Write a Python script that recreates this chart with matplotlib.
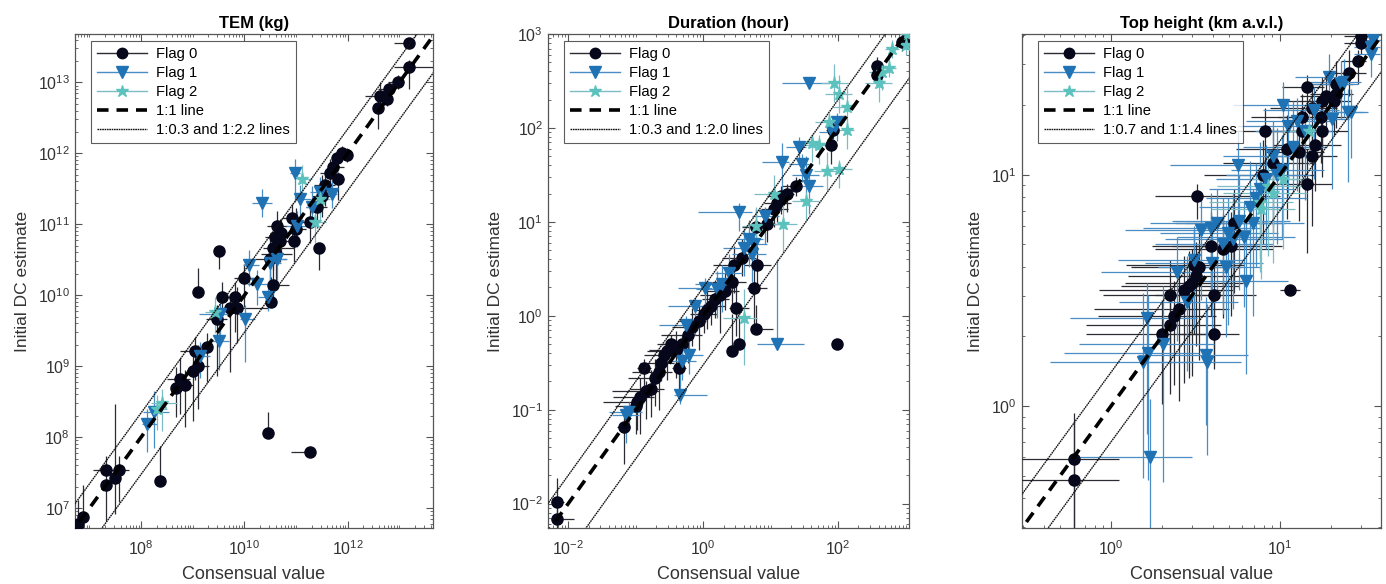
import numpy as np
import matplotlib
matplotlib.use("Agg")
import matplotlib.pyplot as plt
from matplotlib.lines import Line2D
from matplotlib.ticker import FixedLocator, LogLocator, NullFormatter, LogFormatterMathtext

plt.rcParams['font.family'] = ['Liberation Sans', 'DejaVu Sans']
plt.rcParams['mathtext.fontset'] = 'custom'
plt.rcParams['mathtext.rm'] = 'Liberation Sans'
plt.rcParams['mathtext.default'] = 'regular'
plt.rcParams['axes.unicode_minus'] = False

# rows: log10(consensual), log10(initial DC), x err low/high, y err low/high (decades)
tem_flag0 = [
    [6.77, 6.77, 0, 0.05, 0, 0.35], [6.88, 6.87, 0, 0, 0.15, 0.45],
    [7.32, 7.32, 0, 0, 0.5, 0.3], [7.32, 7.54, 0.25, 0.45, 0, 0.2],
    [7.50, 7.42, 0, 0, 0.5, 1.05], [7.57, 7.54, 0, 0, 0.45, 0.2],
    [8.37, 7.38, 0, 0, 0, 0.5], [8.67, 8.69, 0, 0.2, 0.4, 0.3],
    [8.75, 8.82, 0.25, 0.2, 0.5, 0.3], [8.85, 8.74, 0, 0.15, 0.6, 0.2],
    [9.00, 8.93, 0, 0.1, 0.7, 0.3], [9.11, 9.00, 0, 0.2, 0.6, 0.3],
    [9.05, 9.21, 0.3, 0.1, 0.4, 0.2], [9.27, 9.27, 0, 0, 0.5, 0.2],
    [9.10, 10.04, 0, 0, 0, 0.35], [9.56, 9.98, 0, 0.2, 0.4, 0.2],
    [9.46, 9.66, 0.2, 0.2, 0.8, 0.2], [9.72, 9.82, 0, 0.1, 0.9, 0.2],
    [9.82, 9.98, 0.2, 0.2, 0.5, 0.2], [9.85, 9.82, 0.1, 0.6, 0.5, 0.3],
    [9.50, 10.62, 0, 0, 0.25, 0], [10.0, 10.24, 0.2, 0.2, 0.4, 0.2],
    [10.51, 9.90, 0, 0, 0, 0.35], [10.56, 10.14, 0.1, 0.3, 0.3, 0.3],
    [10.50, 10.51, 0.3, 0.3, 0.5, 0.3], [10.56, 10.66, 0.2, 0.4, 0.3, 0.2],
    [10.59, 10.82, 0.2, 0.2, 0.3, 0.2], [10.63, 10.98, 0.2, 0.2, 0.3, 0.2],
    [10.69, 10.77, 0.2, 0.3, 0.3, 0.3], [10.46, 8.06, 0, 0, 0, 0.3],
    [11.26, 7.79, 0.35, 0, 0, 0], [10.95, 10.77, 0.1, 0.1, 0.3, 0.3],
    [11.0, 10.93, 0.1, 0.2, 0.2, 0.3], [11.27, 11.03, 0.2, 0.2, 0.3, 0.3],
    [11.44, 10.66, 0, 0, 0.3, 0], [11.40, 11.24, 0.2, 0.2, 0.3, 0.3],
    [11.50, 11.40, 0.2, 0.2, 0.3, 0.3], [11.66, 11.72, 0.2, 0.1, 0.2, 0.2],
    [11.79, 11.93, 0.1, 0.1, 0.2, 0.1], [11.88, 12.0, 0.1, 0.1, 0.1, 0.1],
    [11.98, 11.98, 0.1, 0.1, 0.1, 0.1], [11.82, 11.64, 0.1, 0.1, 0.3, 0.1],
    [11.72, 11.80, 0.1, 0.2, 0.2, 0.1], [12.63, 12.80, 0.3, 0.1, 0.2, 0.2],
    [12.79, 12.90, 0.2, 0.1, 0.2, 0.1], [12.59, 12.64, 0.1, 0.1, 0.3, 0.1],
    [12.75, 12.77, 0.1, 0.1, 0.1, 0.1], [12.98, 13.0, 0.2, 0.1, 0.1, 0.1],
    [13.19, 13.21, 0.3, 0.5, 0.3, 0.1], [13.19, 13.55, 0.3, 0, 0, 0],
    [10.92, 11.09, 0.2, 0.2, 0.3, 0.2], [10.62, 10.58, 0.3, 0.3, 0.4, 0.2],
    [10.70, 10.88, 0.2, 0.3, 0.3, 0.2], [11.55, 11.55, 0.2, 0.2, 0.3, 0.2],
]
tem_flag1 = [
    [8.11, 8.19, 0.1, 0.2, 0.4, 0.2], [8.24, 8.35, 0.2, 0.3, 0.5, 0.3],
    [9.14, 9.14, 0.1, 0.2, 0.3, 0.2], [9.50, 9.35, 0.2, 0.2, 0.4, 0.3],
    [9.53, 9.74, 0.4, 0.2, 0.3, 0.3], [10.01, 9.66, 0.1, 0.2, 0.6, 0.2],
    [10.24, 10.16, 0.2, 0.2, 0.3, 0.2], [10.08, 10.43, 0.1, 0.2, 0.3, 0.2],
    [10.46, 9.98, 0.2, 0.1, 0.2, 0.2], [10.50, 10.45, 0.1, 0.2, 0.3, 0.2],
    [10.34, 11.30, 0.2, 0.2, 0.2, 0.2], [10.98, 11.72, 0.1, 0.1, 0.4, 0.2],
    [11.08, 11.35, 0.1, 0.2, 0.4, 0.2], [11.30, 11.24, 0.1, 0.2, 0.3, 0.3],
    [11.46, 11.46, 0.2, 0.2, 0.3, 0.2], [11.69, 11.43, 0.2, 0.1, 0.2, 0.2],
    [11.01, 10.98, 0.2, 0.2, 0.3, 0.2], [10.63, 10.51, 0.2, 0.2, 0.3, 0.2],
]
tem_flag2 = [
    [8.40, 8.48, 0.2, 0.3, 0.4, 0.2], [8.30, 8.40, 0.1, 0.2, 0.3, 0.2],
    [11.11, 11.64, 0.1, 0.2, 0.3, 0.2], [11.37, 11.03, 0.2, 0.2, 0.3, 0.3],
    [11.46, 11.35, 0.1, 0.2, 0.3, 0.2], [9.43, 9.77, 0.2, 0.2, 0.3, 0.2],
]

dur_flag0 = [
    [-2.16, -1.98, 0.1, 0.1, 0.15, 0.25], [-2.16, -2.16, 0.1, 0.25, 0.1, 0.1],
    [-1.18, -1.18, 0.1, 0.1, 0.4, 0.1], [-0.88, -0.56, 0.1, 0.1, 0.2, 0.1],
    [-1.00, -0.96, 0.3, 0.1, 0.3, 0.1], [-0.93, -0.86, 0.4, 0.2, 0.4, 0.2],
    [-0.78, -0.78, 0.3, 0.2, 0.3, 0.2], [-0.71, -0.66, 0.4, 0.1, 0.3, 0.2],
    [-0.63, -0.50, 0.3, 0.2, 0.2, 0.1], [-0.58, -0.42, 0.3, 0.2, 0.2, 0.1],
    [-0.53, -0.38, 0.3, 0.2, 0.3, 0.1], [-0.48, -0.30, 0.2, 0.2, 0.2, 0.1],
    [-0.36, -0.56, 0.1, 0.1, 0.3, 0.1], [-0.31, -0.30, 0.3, 0.1, 0.2, 0.1],
    [-0.16, -0.12, 0.3, 0.1, 0.2, 0.2], [-0.06, -0.06, 0.3, 0.1, 0.3, 0.2],
    [0.01, 0.02, 0.2, 0.2, 0.2, 0.1], [0.06, 0.06, 0.2, 0.1, 0.2, 0.2],
    [0.18, 0.18, 0.2, 0.2, 0.2, 0.2], [0.33, 0.26, 0.3, 0.2, 0.2, 0.2],
    [0.43, 0.36, 0.3, 0.2, 0.3, 0.2], [0.45, 0.54, 0.3, 0.1, 0.3, 0.2],
    [0.48, 0.08, 0.1, 0.2, 0.3, 0.3], [0.43, -0.38, 0, 0, 0, 0.4],
    [0.53, -0.30, 0, 0, 0, 0.3], [0.78, -0.14, 0, 0.25, 0, 0.25],
    [0.75, 0.30, 0.1, 0.2, 0.4, 0.2], [0.80, 0.54, 0.2, 0.2, 0.3, 0.2],
    [0.78, 0.94, 0.2, 0.2, 0.2, 0.2], [1.05, 1.14, 0.2, 0.2, 0.2, 0.2],
    [1.10, 1.20, 0.2, 0.2, 0.2, 0.1], [1.24, 1.30, 0.2, 0.1, 0.2, 0.1],
    [1.37, 1.38, 0.2, 0.1, 0.1, 0.1], [1.89, 1.82, 0.1, 0.1, 0.2, 0.1],
    [1.92, 1.98, 0.1, 0.1, 0.1, 0.1], [2.58, 2.56, 0.1, 0.1, 0.1, 0.1],
    [2.58, 2.66, 0.1, 0.1, 0.1, 0.1], [2.95, 2.92, 0.1, 0.1, 0.1, 0.1],
    [3.02, 2.94, 0.1, 0.1, 0.1, 0.1], [1.99, -0.30, 0, 0, 0, 0],
    [-0.98, -0.92, 0.5, 0.1, 0.3, 0.1], [-0.85, -0.80, 0.5, 0.2, 0.3, 0.1],
    [-0.66, -0.60, 0.4, 0.2, 0.4, 0.1], [-0.40, -0.36, 0.4, 0.1, 0.3, 0.2],
    [-0.22, -0.20, 0.4, 0.2, 0.3, 0.1], [0.12, 0.10, 0.3, 0.2, 0.2, 0.1],
    [0.25, 0.22, 0.3, 0.1, 0.4, 0.1], [0.58, 0.62, 0.3, 0.2, 0.2, 0.2],
    [0.95, 0.98, 0.2, 0.2, 0.2, 0.1], [1.15, 1.28, 0.2, 0.1, 0.2, 0.1],
]
dur_flag1 = [
    [-1.15, -1.06, 0.2, 0.2, 0.3, 0.1], [-1.10, -1.02, 0.3, 0.2, 0.2, 0.1],
    [-0.34, -0.84, 0.1, 0.4, 0.1, 0.5], [-0.26, -0.10, 0.4, 0.2, 0.3, 0.1],
    [-0.31, -0.48, 0.3, 0.2, 0.2, 0.1], [-0.21, -0.42, 0.2, 0.2, 0.2, 0.2],
    [0.03, 0.30, 0.4, 0.1, 0.2, 0.1], [0.28, 0.34, 0.4, 0.2, 0.3, 0.2],
    [0.38, 0.46, 0.2, 0.2, 0.2, 0.2], [0.53, 1.10, 0.6, 0.2, 0.2, 0.1],
    [0.68, 0.82, 0.2, 0.2, 0.3, 0.2], [0.73, 0.66, 0.3, 0.2, 0.3, 0.2],
    [0.75, 0.76, 0.2, 0.2, 0.2, 0.2], [0.92, 1.06, 0.2, 0.2, 0.3, 0.1],
    [1.10, -0.30, 0.3, 0.4, 0, 0.9], [1.17, 1.64, 0.3, 0.1, 0.3, 0.2],
    [1.42, 1.80, 0.2, 0.1, 0.2, 0.1], [1.47, 1.62, 0.2, 0.1, 0.2, 0.1],
    [1.52, 1.50, 0.2, 0.2, 0.2, 0.2], [1.57, 1.38, 0.1, 0.2, 0.3, 0.2],
    [1.57, 2.48, 0.4, 0.3, 0, 0], [1.91, 1.96, 0.2, 0.1, 0.2, 0.1],
    [1.99, 2.06, 0.1, 0.1, 0.2, 0.1], [-0.12, 0.10, 0.4, 0.2, 0.3, 0.1],
    [0.20, 0.28, 0.3, 0.2, 0.3, 0.2], [0.60, 0.72, 0.3, 0.2, 0.3, 0.2],
]
dur_flag2 = [
    [0.60, -0.02, 0.3, 0.2, 0.5, 0.3], [0.78, 0.96, 0.2, 0.2, 0.3, 0.2],
    [1.05, 1.30, 0.3, 0.2, 0.2, 0.2], [1.19, 0.98, 0.2, 0.2, 0.3, 0.2],
    [1.52, 1.22, 0.2, 0.2, 0.2, 0.1], [1.61, 1.84, 0.2, 0.2, 0.2, 0.1],
    [1.71, 1.82, 0.2, 0.2, 0.2, 0.1], [1.84, 1.54, 0.2, 0.2, 0.2, 0.2],
    [1.86, 2.06, 0.2, 0.2, 0.2, 0.1], [2.01, 1.56, 0.2, 0.2, 0.2, 0.1],
    [2.13, 1.98, 0.2, 0.1, 0.2, 0.1], [2.13, 2.22, 0.2, 0.1, 0.2, 0.2],
    [2.01, 2.36, 0.2, 0.2, 0.2, 0.2], [1.94, 2.48, 0.2, 0.2, 0.2, 0.2],
    [2.60, 2.48, 0.2, 0.2, 0.2, 0.1], [2.65, 2.60, 0.2, 0.1, 0.2, 0.1],
    [2.75, 2.64, 0.2, 0.1, 0.1, 0.1], [2.80, 2.84, 0.1, 0.1, 0.1, 0.1],
    [3.02, 3.00, 0.1, 0.1, 0.1, 0.1], [3.00, 2.88, 0.1, 0.1, 0.1, 0.1],
]

top_flag0 = [
    [-0.22, -0.23, 0.4, 0.27, 0.4, 0.2], [-0.22, -0.32, 0.4, 0.27, 0.3, 0.25],
    [0.30, 0.31, 0.45, 0.3, 0.3, 0.15], [0.35, 0.35, 0.5, 0.3, 0.3, 0.15],
    [0.37, 0.39, 0.45, 0.25, 0.3, 0.15], [0.40, 0.42, 0.5, 0.3, 0.4, 0.15],
    [0.35, 0.48, 0.4, 0.3, 0.3, 0.15], [0.43, 0.50, 0.5, 0.3, 0.4, 0.15],
    [0.46, 0.52, 0.4, 0.3, 0.4, 0.15], [0.48, 0.53, 0.4, 0.3, 0.4, 0.15],
    [0.50, 0.56, 0.4, 0.3, 0.3, 0.15], [0.52, 0.60, 0.4, 0.25, 0.4, 0.15],
    [0.49, 0.61, 0.4, 0.3, 0.3, 0.15], [0.51, 0.91, 0.25, 0.49, 0.1, 0.05],
    [0.61, 0.31, 0.2, 0.15, 0.15, 0.15], [0.61, 0.48, 0.35, 0.25, 0.3, 0.15],
    [0.59, 0.69, 0.35, 0.3, 0.3, 0.15], [0.66, 0.68, 0.4, 0.3, 0.3, 0.15],
    [0.71, 0.69, 0.35, 0.3, 0.3, 0.15], [1.06, 0.50, 0.06, 0.06, 0, 0],
    [0.73, 0.79, 0.35, 0.3, 0.3, 0.15], [0.90, 1.00, 0.35, 0.3, 0.3, 0.15],
    [0.96, 1.05, 0.3, 0.25, 0.3, 0.15], [1.04, 1.11, 0.3, 0.2, 0.3, 0.15],
    [1.16, 0.96, 0.2, 0.15, 0.3, 0.15], [1.11, 1.10, 0.2, 0.15, 0.3, 0.15],
    [1.19, 1.08, 0.25, 0.15, 0.3, 0.1], [1.21, 1.13, 0.25, 0.15, 0.2, 0.1],
    [1.13, 1.25, 0.3, 0.15, 0.2, 0.1], [1.19, 1.29, 0.25, 0.15, 0.2, 0.1],
    [1.24, 1.25, 0.25, 0.15, 0.2, 0.1], [1.25, 1.19, 0.2, 0.15, 0.2, 0.1],
    [1.25, 1.32, 0.25, 0.1, 0.2, 0.1], [1.27, 1.34, 0.15, 0.1, 0.15, 0.1],
    [1.32, 1.32, 0.15, 0.1, 0.15, 0.1], [1.33, 1.39, 0.15, 0.1, 0.1, 0.1],
    [1.33, 1.35, 0.15, 0.1, 0.15, 0.1], [1.16, 1.38, 0.15, 0.1, 0.1, 0.05],
    [1.13, 1.19, 0.2, 0.15, 0.2, 0.1], [1.41, 1.44, 0.15, 0.1, 0.1, 0.1],
    [1.46, 1.49, 0.1, 0.05, 0.1, 0.05], [1.48, 1.57, 0.1, 0.05, 0.05, 0.05],
    [1.48, 1.60, 0.1, 0.05, 0.05, 0.05], [0.91, 1.19, 0.35, 0.25, 0.3, 0.1],
]
top_flag1 = [
    [0.23, -0.22, 0.42, 0.25, 0.4, 0.25], [0.19, 0.19, 0.55, 0.3, 0.5, 0.3],
    [0.22, 0.23, 0.5, 0.3, 0.55, 0.25], [0.31, 0.27, 0.5, 0.3, 0.6, 0.25],
    [0.21, 0.38, 0.45, 0.3, 0.5, 0.15], [0.57, 0.19, 0.4, 0.2, 0.4, 0.25],
    [0.56, 0.22, 0.4, 0.25, 0.3, 0.25], [0.80, 0.54, 0.3, 0.25, 0.4, 0.25],
    [0.39, 0.58, 0.45, 0.3, 0.3, 0.15], [0.49, 0.63, 0.45, 0.3, 0.3, 0.15],
    [0.53, 0.76, 0.45, 0.3, 0.3, 0.15], [0.59, 0.77, 0.4, 0.3, 0.3, 0.15],
    [0.63, 0.79, 0.4, 0.3, 0.3, 0.15], [0.69, 0.75, 0.4, 0.3, 0.4, 0.15],
    [0.75, 1.04, 0.4, 0.3, 0.3, 0.15], [0.79, 0.73, 0.4, 0.3, 0.3, 0.15],
    [0.84, 0.79, 0.4, 0.3, 0.4, 0.15], [0.86, 0.90, 0.3, 0.3, 0.3, 0.15],
    [0.92, 0.98, 0.3, 0.25, 0.3, 0.15], [0.96, 1.08, 0.3, 0.25, 0.3, 0.15],
    [1.01, 1.02, 0.3, 0.25, 0.3, 0.15], [1.02, 1.30, 0.3, 0.2, 0.2, 0.1],
    [1.05, 1.21, 0.3, 0.2, 0.3, 0.1], [1.10, 1.23, 0.3, 0.2, 0.3, 0.1],
    [1.15, 1.19, 0.3, 0.15, 0.3, 0.1], [1.20, 1.28, 0.3, 0.15, 0.3, 0.1],
    [1.29, 1.42, 0.2, 0.1, 0.15, 0.1], [1.31, 1.24, 0.2, 0.1, 0.3, 0.1],
    [1.40, 1.27, 0.15, 0.1, 0.3, 0.1], [1.36, 1.39, 0.2, 0.1, 0.15, 0.1],
    [1.38, 1.40, 0.2, 0.1, 0.15, 0.1], [1.42, 1.27, 0.15, 0.1, 0.2, 0.1],
    [1.54, 1.52, 0.1, 0.05, 0.1, 0.05], [1.55, 1.58, 0.1, 0.05, 0.05, 0.05],
    [1.54, 1.55, 0.1, 0.05, 0.05, 0.05],
    [0.60, 0.62, 0.4, 0.3, 0.3, 0.2], [0.66, 0.70, 0.4, 0.3, 0.3, 0.2],
    [0.72, 0.72, 0.4, 0.3, 0.3, 0.2], [0.76, 0.80, 0.4, 0.3, 0.3, 0.2],
    [0.82, 0.86, 0.3, 0.2, 0.3, 0.2], [0.88, 0.94, 0.3, 0.2, 0.3, 0.2],
    [0.98, 1.00, 0.3, 0.2, 0.3, 0.2], [1.08, 1.12, 0.3, 0.2, 0.2, 0.2],
    [0.45, 0.45, 0.4, 0.3, 0.3, 0.2], [0.68, 0.60, 0.4, 0.2, 0.3, 0.2],
]
top_flag2 = [
    [0.93, 0.95, 0.3, 0.2, 0.3, 0.15], [0.88, 0.88, 0.3, 0.2, 0.3, 0.15],
    [0.96, 0.92, 0.3, 0.2, 0.3, 0.15], [1.02, 0.98, 0.2, 0.15, 0.3, 0.15],
    [0.89, 0.85, 0.3, 0.2, 0.3, 0.15], [1.17, 1.19, 0.15, 0.1, 0.15, 0.1],
]

titles = ["TEM (kg)", "Duration (hour)", "Top height (km a.v.l.)"]
bound_labels = ["1:0.3 and 1:2.2 lines", "1:0.3 and 1:2.0 lines", "1:0.7 and 1:1.4 lines"]
bound_ratios = [(0.3, 2.2), (0.3, 2.0), (0.7, 1.4)]
log_xlims = [(6.72, 13.65), (-2.30, 3.05), (-0.527, 1.598)]
log_ylims = [(6.72, 13.68), (-2.26, 3.0), (-0.527, 1.608)]
x_major = [[1e8, 1e10, 1e12], [1e-2, 1e0, 1e2], [1e0, 1e1]]
y_major = [[10.0 ** k for k in range(7, 14)], [10.0 ** k for k in range(-2, 4)], [1e0, 1e1]]

# flag styles: marker, face colour, errorbar colour, size
flag_styles = [
    ("o", "#07071c", "#2b2b33", 8),
    ("v", "#1f72b4", "#4a8dc4", 8.5),
    ("*", "#5cc2bd", "#7cbcc4", 9.5),
]

axes_pos = [
    [75 / 1386, 56 / 584, 358 / 1386, 494 / 584],
    [548 / 1386, 56 / 584, 361 / 1386, 494 / 584],
    [1022 / 1386, 56 / 584, 359 / 1386, 494 / 584],
]


def draw_flag(ax, rows, style):
    marker, mcol, ecol, ms = style
    r = np.array(rows, dtype=float)
    x = 10 ** r[:, 0]
    y = 10 ** r[:, 1]
    xerr = [x - 10 ** (r[:, 0] - r[:, 2]), 10 ** (r[:, 0] + r[:, 3]) - x]
    yerr = [y - 10 ** (r[:, 1] - r[:, 4]), 10 ** (r[:, 1] + r[:, 5]) - y]
    ax.errorbar(x, y, xerr=xerr, yerr=yerr, fmt=marker, ms=ms, mfc=mcol, mec=mcol,
                ecolor=ecol, elinewidth=0.9, capsize=0, zorder=3)


fig = plt.figure(figsize=(13.86, 5.84), dpi=100)
panels = [
    (tem_flag0, tem_flag1, tem_flag2),
    (dur_flag0, dur_flag1, dur_flag2),
    (top_flag0, top_flag1, top_flag2),
]
dots = (0, (1.2, 0.5))

for i, flags in enumerate(panels):
    ax = fig.add_axes(axes_pos[i])
    ax.set_xscale("log")
    ax.set_yscale("log")
    xl = [10 ** v for v in log_xlims[i]]
    yl = [10 ** v for v in log_ylims[i]]

    for rows, style in zip(flags, flag_styles):
        draw_flag(ax, rows, style)

    line_x = np.array([min(xl[0], yl[0]) / 10, max(xl[1], yl[1]) * 10])
    ax.plot(line_x, line_x, color="black", lw=2.6, ls=(0, (3.2, 2.2)), zorder=4)
    lo, hi = bound_ratios[i]
    ax.plot(line_x, line_x * lo, color="#111111", lw=1.0, ls=dots, zorder=4)
    ax.plot(line_x, line_x * hi, color="#111111", lw=1.0, ls=dots, zorder=4)

    ax.set_xlim(xl)
    ax.set_ylim(yl)

    ax.xaxis.set_major_locator(FixedLocator(x_major[i]))
    ax.yaxis.set_major_locator(FixedLocator(y_major[i]))
    ax.xaxis.set_major_formatter(LogFormatterMathtext())
    ax.yaxis.set_major_formatter(LogFormatterMathtext())
    ax.xaxis.set_minor_locator(LogLocator(base=10, subs=np.arange(1, 10), numticks=100))
    ax.yaxis.set_minor_locator(LogLocator(base=10, subs=np.arange(2, 10), numticks=100))
    ax.xaxis.set_minor_formatter(NullFormatter())
    ax.yaxis.set_minor_formatter(NullFormatter())
    ax.tick_params(which="both", direction="in", top=True, right=True,
                   colors="#555555", labelcolor="#333333", labelsize=11.5)
    ax.tick_params(which="major", length=5, width=0.8)
    ax.tick_params(which="minor", length=2.5, width=0.6)
    ax.tick_params(axis="x", which="major", pad=8)
    for s in ax.spines.values():
        s.set_color("#555555")
        s.set_linewidth(0.9)

    ax.set_title(titles[i], fontsize=12, fontweight="bold", pad=4)
    ax.set_xlabel("Consensual value", fontsize=13, color="#333333", labelpad=6)
    ax.set_ylabel("Initial DC estimate", fontsize=12.5, color="#333333", labelpad=6)

    handles = [
        Line2D([0], [0], color=flag_styles[0][2], lw=1, marker="o",
               mfc=flag_styles[0][1], mec=flag_styles[0][1], ms=7.5),
        Line2D([0], [0], color=flag_styles[1][2], lw=1, marker="v",
               mfc=flag_styles[1][1], mec=flag_styles[1][1], ms=8),
        Line2D([0], [0], color=flag_styles[2][2], lw=1, marker="*",
               mfc=flag_styles[2][1], mec=flag_styles[2][1], ms=9),
        Line2D([0], [0], color="black", lw=2.6, ls=(0, (3.2, 2.2))),
        Line2D([0], [0], color="#111111", lw=1.0, ls=dots),
    ]
    labels = ["Flag 0", "Flag 1", "Flag 2", "1:1 line", bound_labels[i]]
    leg = ax.legend(handles, labels, loc="upper left", bbox_to_anchor=(0.045, 0.985),
                    fontsize=10.6, frameon=True, fancybox=False, edgecolor="#333333",
                    handlelength=3.4, handletextpad=0.6, labelspacing=0.33,
                    borderpad=0.4, borderaxespad=0)
    leg.get_frame().set_linewidth(0.8)
    leg.set_zorder(5)

fig.savefig("out.png", dpi=100)
